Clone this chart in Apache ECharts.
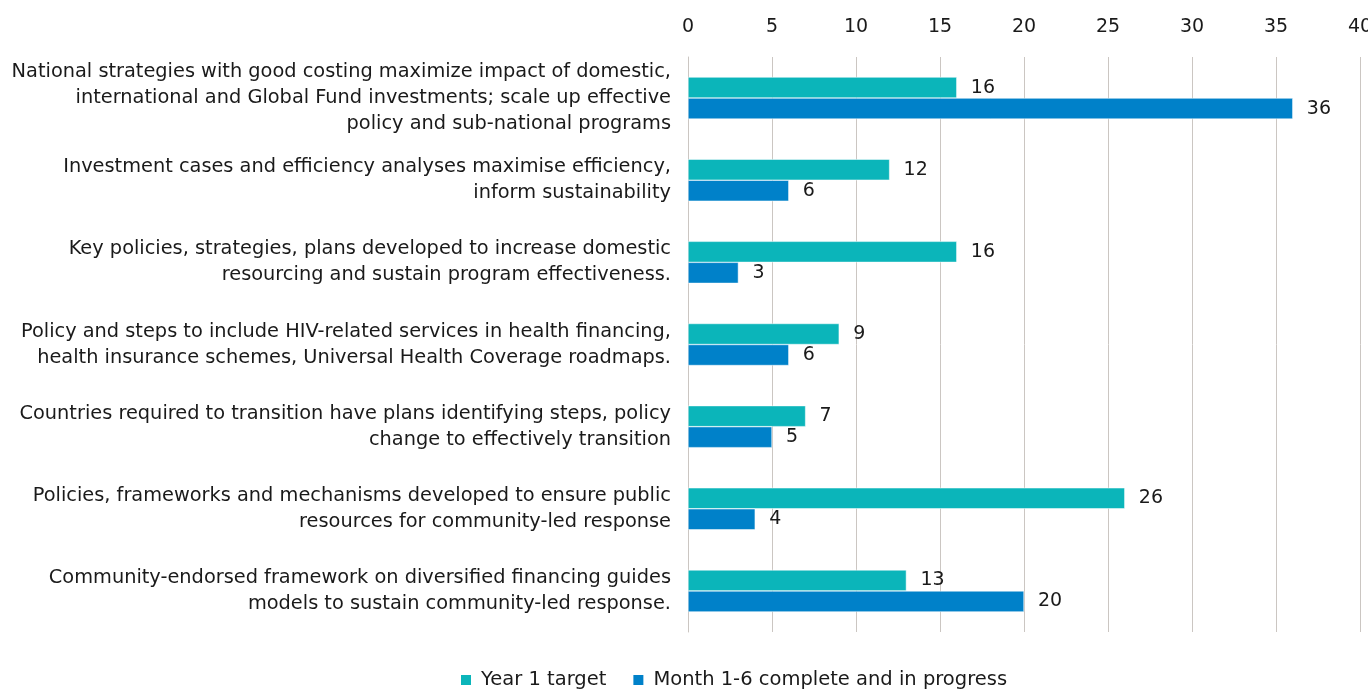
<!DOCTYPE html>
<html><head><meta charset="utf-8">
<script src="https://cdn.jsdelivr.net/npm/echarts@6/dist/echarts.min.js"></script>
<style>html,body{margin:0;padding:0;background:#fff}#c{width:1368px;height:689px}</style>
</head><body><div id="c"></div>
<script>
const categories = [
  "National strategies with good costing maximize impact of domestic,\ninternational and Global Fund investments; scale up effective\npolicy and sub-national programs",
  "Investment cases and efficiency analyses maximise efficiency,\ninform sustainability",
  "Key policies, strategies, plans developed to increase domestic\nresourcing and sustain program effectiveness.",
  "Policy and steps to include HIV-related services in health financing,\nhealth insurance schemes, Universal Health Coverage roadmaps.",
  "Countries required to transition have plans identifying steps, policy\nchange to effectively transition",
  "Policies, frameworks and mechanisms developed to ensure public\nresources for community-led response",
  "Community-endorsed framework on diversified financing guides\nmodels to sustain community-led response."
];
const year1Target = [16, 12, 16, 9, 7, 26, 13];
const month1to6 = [36, 6, 3, 6, 5, 4, 20];
const seriesNames = ["Year 1 target", "Month 1-6 complete and in progress"];

const FONT = 'DejaVu Sans';
const TXT = '#1a1a1a';
const chart = echarts.init(document.getElementById('c'));
const lbl = {show:true, position:'right', distance:14, color:TXT, fontFamily:FONT, fontSize:19};
chart.setOption({
  animation:false,
  grid:{left:688, right:8, top:57, bottom:57, containLabel:false, outerBoundsMode:'none'},
  legend:{bottom:-6, left:454, itemWidth:12, itemHeight:12, itemGap:25, icon:'rect',
    textStyle:{color:TXT, fontFamily:FONT, fontSize:19.5, padding:[0,0,0,4]}, data:seriesNames},
  xAxis:{type:'value', position:'top', min:0, max:40, interval:5,
    axisLine:{show:false}, axisTick:{show:false},
    axisLabel:{color:TXT, fontFamily:FONT, fontSize:19, margin:20},
    splitLine:{lineStyle:{color:'#cbc6c2', width:1}}},
  yAxis:{type:'category', inverse:true, data:categories,
    axisLine:{show:true, lineStyle:{color:'#cbc6c2'}}, axisTick:{show:false},
    axisLabel:{color:TXT, fontFamily:FONT, fontSize:19.35, lineHeight:26, margin:17, align:'right'}},
  series:[
    {name:seriesNames[0], type:'bar', data:year1Target, barWidth:21, barGap:'0%',
     itemStyle:{color:'#0bb5ba', borderColor:'#ffffff', borderWidth:0.5}, label:lbl},
    {name:seriesNames[1], type:'bar', data:month1to6, barWidth:21,
     itemStyle:{color:'#0081c9', borderColor:'#ffffff', borderWidth:0.5}, label:lbl}
  ]
});
</script></body></html>
